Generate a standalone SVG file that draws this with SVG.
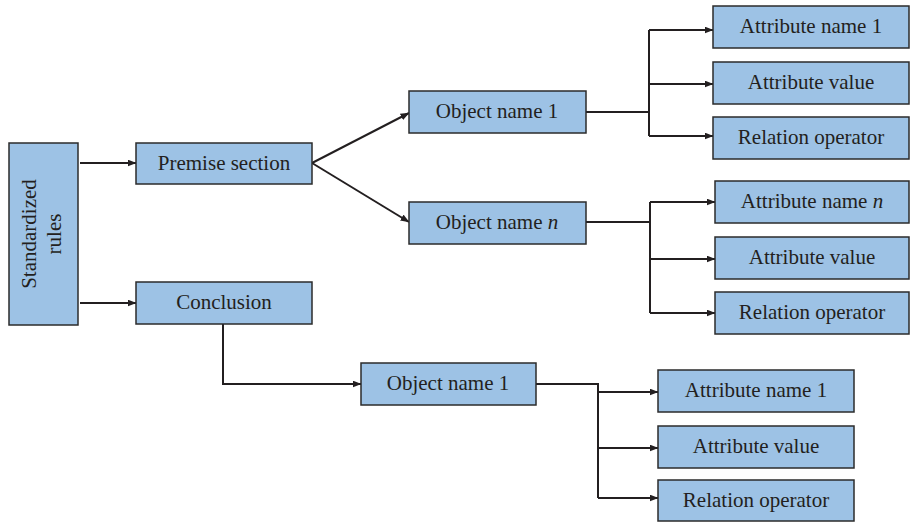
<svg xmlns="http://www.w3.org/2000/svg" width="911" height="522" viewBox="0 0 911 522">
<style>
.box{fill:#9dc2e5;stroke:#2b2b2b;stroke-width:1.5}
.t{font-family:"Liberation Serif","Times New Roman",serif;font-size:21px;fill:#231f20;text-anchor:middle}
.c{fill:none;stroke:#231f20;stroke-width:2}
</style>
<defs>
<marker id="ah" markerWidth="9" markerHeight="7" refX="8.5" refY="3.5" orient="auto" markerUnits="userSpaceOnUse">
<path d="M0,0 L9,3.5 L0,7 Z" fill="#231f20"/>
</marker>
</defs>
<rect width="911" height="522" fill="#fff"/>
<g id="connectors">
<line class="c" x1="80" y1="163" x2="136" y2="163" marker-end="url(#ah)"/>
<line class="c" x1="80" y1="303" x2="136" y2="303" marker-end="url(#ah)"/>
<line class="c" x1="312" y1="163" x2="409" y2="113" marker-end="url(#ah)"/>
<line class="c" x1="312" y1="163" x2="409" y2="222" marker-end="url(#ah)"/>
<polyline class="c" points="586,112 649,112"/>
<line class="c" x1="649" y1="30" x2="649" y2="136"/>
<line class="c" x1="649" y1="30" x2="713" y2="30" marker-end="url(#ah)"/>
<line class="c" x1="649" y1="84" x2="713" y2="84" marker-end="url(#ah)"/>
<line class="c" x1="649" y1="136" x2="713" y2="136" marker-end="url(#ah)"/>
<polyline class="c" points="586,222 650,222"/>
<line class="c" x1="650" y1="202" x2="650" y2="313"/>
<line class="c" x1="650" y1="202" x2="715" y2="202" marker-end="url(#ah)"/>
<line class="c" x1="650" y1="259" x2="715" y2="259" marker-end="url(#ah)"/>
<line class="c" x1="650" y1="313" x2="715" y2="313" marker-end="url(#ah)"/>
<polyline class="c" points="223,324 223,384 361,384" marker-end="url(#ah)"/>
<polyline class="c" points="536,384 598,384 598,498"/>
<line class="c" x1="598" y1="392" x2="658" y2="392" marker-end="url(#ah)"/>
<line class="c" x1="598" y1="448" x2="658" y2="448" marker-end="url(#ah)"/>
<line class="c" x1="598" y1="498" x2="658" y2="498" marker-end="url(#ah)"/>
</g>
<g id="standardized-rules">
<rect class="box" x="9" y="143" width="69" height="182"/>
<text class="t" transform="translate(36,234) rotate(-90)">Standardized</text>
<text class="t" transform="translate(61,234) rotate(-90)">rules</text>
</g>
<g id="premise-section">
<rect class="box" x="136" y="143" width="176" height="41"/>
<text class="t" x="224" y="170">Premise section</text>
</g>
<g id="conclusion">
<rect class="box" x="136" y="282" width="176" height="42"/>
<text class="t" x="224" y="309">Conclusion</text>
</g>
<g id="object-name-1-top">
<rect class="box" x="409" y="91" width="177" height="42"/>
<text class="t" x="497" y="118">Object name 1</text>
</g>
<g id="object-name-n">
<rect class="box" x="409" y="202" width="177" height="42"/>
<text class="t" x="497" y="229">Object name <tspan font-style="italic">n</tspan></text>
</g>
<g id="object-name-1-bottom">
<rect class="box" x="361" y="363" width="175" height="42"/>
<text class="t" x="448" y="390">Object name 1</text>
</g>
<g id="attr-name-1-a">
<rect class="box" x="713" y="6" width="196" height="42"/>
<text class="t" x="811" y="33">Attribute name 1</text>
</g>
<g id="attr-value-a">
<rect class="box" x="713" y="62" width="196" height="42"/>
<text class="t" x="811" y="89">Attribute value</text>
</g>
<g id="rel-op-a">
<rect class="box" x="713" y="117" width="196" height="42"/>
<text class="t" x="811" y="144">Relation operator</text>
</g>
<g id="attr-name-n-b">
<rect class="box" x="715" y="181" width="194" height="42"/>
<text class="t" x="812" y="208">Attribute name <tspan font-style="italic">n</tspan></text>
</g>
<g id="attr-value-b">
<rect class="box" x="715" y="237" width="194" height="42"/>
<text class="t" x="812" y="264">Attribute value</text>
</g>
<g id="rel-op-b">
<rect class="box" x="715" y="292" width="194" height="42"/>
<text class="t" x="812" y="319">Relation operator</text>
</g>
<g id="attr-name-1-c">
<rect class="box" x="658" y="370" width="196" height="42"/>
<text class="t" x="756" y="397">Attribute name 1</text>
</g>
<g id="attr-value-c">
<rect class="box" x="658" y="426" width="196" height="42"/>
<text class="t" x="756" y="453">Attribute value</text>
</g>
<g id="rel-op-c">
<rect class="box" x="658" y="480" width="196" height="41"/>
<text class="t" x="756" y="507">Relation operator</text>
</g>
</svg>
